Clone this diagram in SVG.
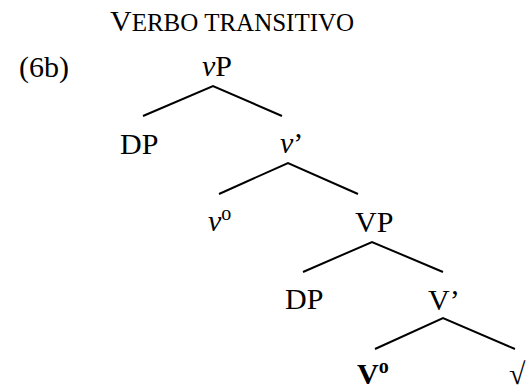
<svg xmlns="http://www.w3.org/2000/svg" width="527" height="389" viewBox="0 0 527 389">
<style>
text{font-family:"Liberation Serif","Times New Roman",serif;font-size:30px;fill:#000}
.it{font-style:italic}
.b{font-weight:bold}
.sup{font-size:20px}
.sc{font-size:25px}
.edge{stroke:#000;stroke-width:2;fill:none;stroke-linecap:butt}
</style>
<rect width="527" height="389" fill="#fff"/>
<g id="title"><text x="110" y="31">V<tspan class="sc">ERBO TRANSITIVO</tspan></text></g>
<g id="label"><text x="19" y="77">(6b)</text></g>
<g id="vP"><text x="202" y="76"><tspan class="it">v</tspan>P</text></g>
<g id="DP1"><text x="120" y="154">DP</text></g>
<g id="vbar"><text x="280" y="153"><tspan class="it">v</tspan>’</text></g>
<g id="v0"><text x="208" y="231"><tspan class="it">v</tspan><tspan class="sup" dy="-11">o</tspan></text></g>
<g id="VP"><text x="355" y="232">VP</text></g>
<g id="DP2"><text x="285" y="309">DP</text></g>
<g id="Vbar"><text x="428" y="310">V’</text></g>
<g id="V0"><text class="b" x="357" y="384">V<tspan class="sup" dy="-11">o</tspan></text></g>
<g id="root"><text x="509" y="384">√</text></g>
<g id="connectors">
<polyline class="edge" points="143,116 213,86 282,116"/>
<polyline class="edge" points="219,194 288,163 358,194"/>
<polyline class="edge" points="303,272 372,242 443,272"/>
<polyline class="edge" points="375,349 443,318 515,349"/>
</g>
</svg>
